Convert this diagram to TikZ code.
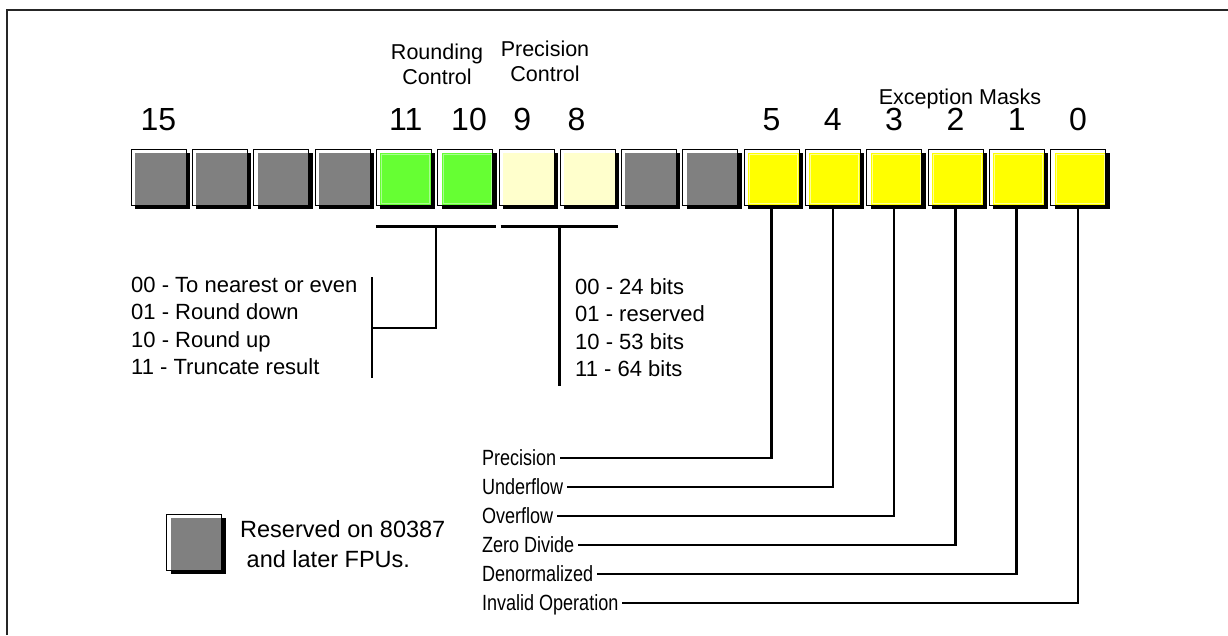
\documentclass[tikz,border=0pt]{standalone}
\usepackage{fontspec}
\setmainfont{Liberation Sans}
\newfontfamily\narrowsf[FakeStretch=0.82]{Liberation Sans}
\usetikzlibrary{shadows,calc}
\definecolor{resgray}{HTML}{808080}
\definecolor{rcgreen}{HTML}{66FF33}
\definecolor{rcrim}{HTML}{A8FF90}
\definecolor{pccream}{HTML}{FFFFCC}
\definecolor{emyellow}{HTML}{FFFF00}
\definecolor{emrim}{HTML}{FFFF99}
\tikzset{
  bitbox/.style 2 args={draw=black, line width=0.6pt, fill=white, minimum width=55pt, minimum height=56pt, inner sep=0pt,
    drop shadow={shadow xshift=4pt, shadow yshift=-4pt, opacity=1, fill=black},
    path picture={
      \fill[#1] ([shift={(4pt,-4pt)}]path picture bounding box.north west) rectangle (path picture bounding box.south east);
      \draw[#2, line width=0.8pt] ([shift={(5.5pt,-5.5pt)}]path picture bounding box.north west) rectangle ([shift={(-1.5pt,1.5pt)}]path picture bounding box.south east);
    }},
  bitnum/.style={font=\fontsize{32}{34}\selectfont, inner sep=0pt},
  lbl/.style={font=\fontsize{22}{26}\selectfont, inner sep=0pt},
  keylbl/.style={font=\fontsize{23.5}{27}\selectfont, inner sep=0pt},
  hdr/.style={font=\fontsize{21.5}{25}\selectfont, align=center, inner sep=0pt},
  emlbl/.style={font=\narrowsf\fontsize{22}{26}\selectfont, inner sep=0pt, outer sep=4pt, text height=15pt, text depth=0pt, anchor=west},
  wire/.style={line width=2.6pt}
}
\begin{document}
\begin{tikzpicture}[x=1pt,y=1pt]
\useasboundingbox (0,0) rectangle (1228,-635);
\draw[line width=2pt, black!85] (7,-635) -- (7,-10) -- (1228,-10);
\foreach \b/\fc/\rc in {15/resgray/resgray,14/resgray/resgray,13/resgray/resgray,12/resgray/resgray,
    11/rcgreen/rcrim,10/rcgreen/rcrim,9/pccream/pccream,8/pccream/pccream,7/resgray/resgray,6/resgray/resgray,
    5/emyellow/emrim,4/emyellow/emrim,3/emyellow/emrim,2/emyellow/emrim,1/emyellow/emrim,0/emyellow/emrim}
  \node[bitbox={\fc}{\rc}] (b\b) at ({158.5+(15-\b)*61.3},-177) {};
\node[bitnum, anchor=base] (n15) at ([yshift=18pt]b15.north) {15};
\node[bitnum, anchor=base] (n11) at ([shift={(2pt,18pt)}]b11.north) {11};
\node[bitnum, anchor=base] (n10) at ([shift={(4pt,18pt)}]b10.north) {10};
\node[bitnum, anchor=base] (n9) at ([shift={(-4pt,18pt)}]b9.north) {9};
\node[bitnum, anchor=base] (n8) at ([shift={(-11pt,18pt)}]b8.north) {8};
\foreach \b in {5,...,0}
  \node[bitnum, anchor=base] (n\b) at ([yshift=18pt]b\b.north) {\b};
\node[hdr] (rch) at (437,-64) {Rounding\\Control};
\node[hdr] (pch) at (545,-61) {Precision\\Control};
\node[hdr, anchor=base] (emh) at (960,-104) {Exception Masks};

\coordinate (rcl) at ([yshift=-21pt]b11.south west);
\coordinate (rcr) at ([shift={(3pt,-21pt)}]b10.south east);
\coordinate (rtap) at ($(rcl)!0.5!(rcr)$);
\coordinate (rbar) at (372,-277);
\draw[wire] (rcl) -- (rcr);
\draw[wire] (rtap) -- (rtap |- 0,-328) -- (rbar |- 0,-328);
\draw[wire] (rbar) -- ++(0,-101);
\foreach \t [count=\i] in {00 - To nearest or even, 01 - Round down, 10 - Round up, 11 - Truncate result}
  \node[lbl, anchor=base west] (r\i) at (131,{-292.5-(\i-1)*27.3}) {\t};

\coordinate (pcl) at ([shift={(2pt,-21pt)}]b9.south west);
\coordinate (pcr) at ([shift={(3pt,-21pt)}]b8.south east);
\coordinate (ptap) at ($(pcl)!0.5!(pcr)$);
\draw[wire] (pcl) -- (pcr);
\draw[wire] (ptap) -- (ptap |- 0,-386);
\foreach \t [count=\i] in {00 - 24 bits, 01 - reserved, 10 - 53 bits, 11 - 64 bits}
  \node[lbl, anchor=base west] (p\i) at (575,{-294.5-(\i-1)*27.3}) {\t};

\foreach \b/\t/\y in {5/Precision/458, 4/Underflow\ /487, 3/Overflow\ /516, 2/Zero Divide/545, 1/Denormalized/574, 0/Invalid Operation/603} {
  \node[emlbl] (e\b) at (478,-\y) {\t};
  \draw[wire] (e\b.east) -- (e\b.east -| b\b.south) -- (b\b.south);
}

\node[bitbox={resgray}{resgray}] (key) at (194,-542) {};
\node[keylbl, anchor=base west] (k1) at (240,-537.5) {Reserved on 80387};
\node[keylbl, anchor=base west] (k2) at (240,-567.5) {\ and later FPUs.};
\end{tikzpicture}
\end{document}
